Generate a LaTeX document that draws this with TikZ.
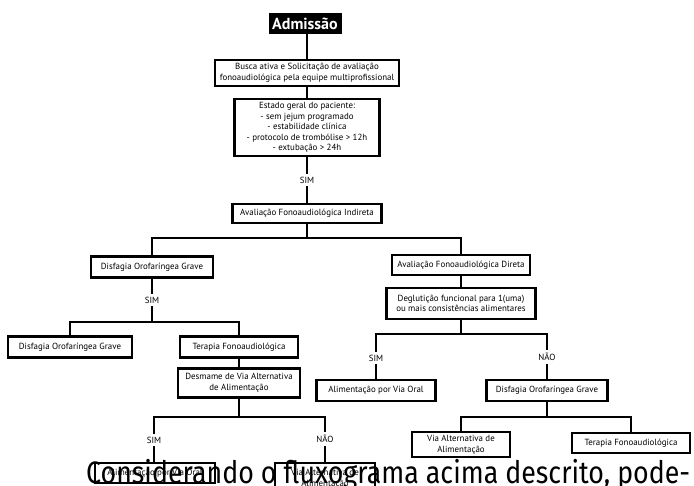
\documentclass[tikz,border=0pt]{standalone}
\usepackage{fontspec}
\setmainfont{PT Sans}
\newfontfamily\bigfont{Fira Sans}
\usepackage{graphicx}
\begin{document}
\begin{tikzpicture}[x=1pt,y=-1pt,
  box/.style={draw=black,line width=2.8pt,fill=white,inner sep=0pt,align=center,font=\fontsize{8.9}{10.6}\selectfont},
  lbl/.style={inner sep=3pt,font=\fontsize{8.9}{10.6}\selectfont},
  conn/.style={line width=2.8pt,line join=miter}]
\useasboundingbox (0,0) rectangle (694,486);
\clip (0,0) rectangle (694,486);
% main column
\node[fill=black,inner sep=0pt,minimum width=73pt,minimum height=21pt,font=\fontsize{16}{16}\bfseries\selectfont] (adm) at (305,23.5) {\textcolor{white}{Admissão}};
\node[box,minimum width=184pt,minimum height=26pt] (busca) at (307,73) {Busca ativa e Solicitação de avaliação\\fonoaudiológica pela equipe multiprofissional};
\node[box,minimum width=145pt,minimum height=57pt] (estado) at (307,127.5) {Estado geral do paciente:\\- sem jejum programado\\- estabilidade clínica\\- protocolo de trombólise > 12h\\- extubação > 24h};
\node[lbl] (sim0) at (307,180) {SIM};
\node[box,minimum width=149pt,minimum height=19pt] (ind) at (307,213.5) {Avaliação Fonoaudiológica Indireta};
\coordinate (b0) at (307,238);
% left branch
\node[box,minimum width=122pt,minimum height=21pt] (dis1) at (152,267) {Disfagia Orofaríngea Grave};
\node[lbl] (sim1) at (152,300) {SIM};
\coordinate (b1) at (152,322);
\node[box,minimum width=124pt,minimum height=21pt] (dis2) at (70,347) {Disfagia Orofaríngea Grave};
\node[box,minimum width=118pt,minimum height=21pt] (ter1) at (239,347) {Terapia Fonoaudiológica};
\node[box,minimum width=122pt,minimum height=29pt] (desm) at (239,383) {Desmame de Via Alternativa\\de Alimentação};
\coordinate (b2) at (239,417);
\node[lbl] (sim2) at (154,440) {SIM};
\node[lbl] (nao2) at (325,439) {NÃO};
\node[box,minimum width=120pt,minimum height=20pt] (ali1) at (155,473) {Alimentação por Via Oral};
\node[box,minimum width=100pt,minimum height=31pt] (via1) at (325,478.5) {Via Alternativa de\\Alimentação};
% right branch
\node[box,minimum width=138pt,minimum height=20pt] (dir) at (461,265) {Avaliação Fonoaudiológica Direta};
\node[box,minimum width=149pt,minimum height=31pt] (deg) at (461,303.5) {Deglutição funcional para 1(uma)\\ou mais consistências alimentares};
\coordinate (b3) at (461,334);
\node[lbl] (sim3) at (376,358) {SIM};
\node[lbl] (nao3) at (547,357) {NÃO};
\node[box,minimum width=119pt,minimum height=21pt] (ali2) at (376,390.5) {Alimentação por Via Oral};
\node[box,minimum width=121pt,minimum height=21pt] (dis3) at (547,390.5) {Disfagia Orofaríngea Grave};
\coordinate (b4) at (547,417);
\node[box,minimum width=98pt,minimum height=25pt] (via2) at (461,444.5) {Via Alternativa de\\Alimentação};
\node[box,minimum width=118pt,minimum height=20pt] (ter2) at (631,443) {Terapia Fonoaudiológica};
% connectors
\draw[conn] (adm.south -| busca.north) -- (busca.north);
\draw[conn] (busca.south) -- (estado.north);
\draw[conn] (estado.south) -- (sim0.north);
\draw[conn] (sim0.south) -- (ind.north);
\draw[conn] (ind.south) -- (b0);
\draw[conn] (dis1.north) |- (b0) -| (dir.north);
\draw[conn] (dis1.south) -- (sim1.north);
\draw[conn] (sim1.south) -- (b1);
\draw[conn] (dis2.north) |- (b1) -| (ter1.north);
\draw[conn] (ter1.south) -- (desm.north);
\draw[conn] (desm.south) -- (b2);
\draw[conn] (sim2.north) |- (b2) -| (nao2.north);
\draw[conn] (sim2.south) -- (sim2.south |- ali1.north);
\draw[conn] (nao2.south) -- (via1.north);
\draw[conn] (dir.south) -- (deg.north);
\draw[conn] (deg.south) -- (b3);
\draw[conn] (sim3.north) |- (b3) -| (nao3.north);
\draw[conn] (sim3.south) -- (ali2.north);
\draw[conn] (nao3.south) -- (dis3.north);
\draw[conn] (dis3.south) -- (b4);
\draw[conn] (via2.north) |- (b4) -| (ter2.north);
% overlay text
\node[anchor=base west,inner sep=0pt] (cons) at (86,483) {\resizebox{604pt}{\height}{\bigfont\fontsize{31}{31}\selectfont Considerando o fluxograma acima descrito, pode-}};
\end{tikzpicture}
\end{document}
